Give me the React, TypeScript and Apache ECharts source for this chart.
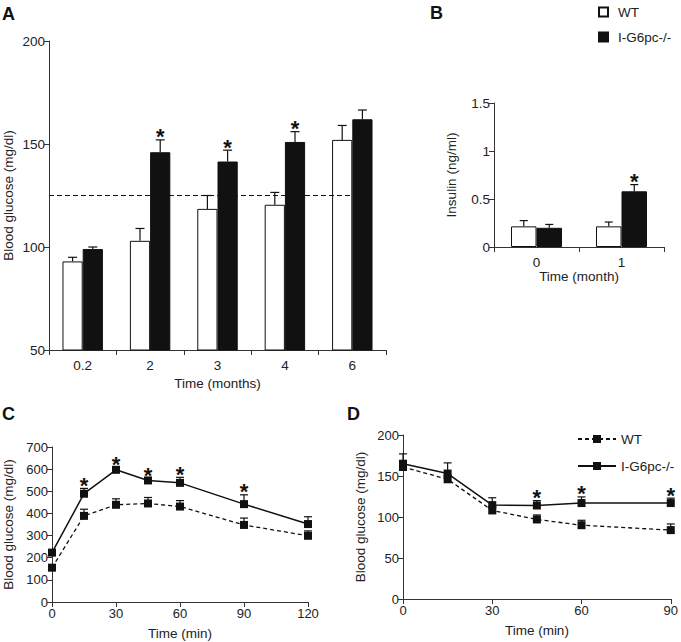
import React, { useEffect, useRef } from 'react';
import * as echarts from 'echarts';

// ---- Panel A: blood glucose by age (months)
const monthCats = ['0.2', '2', '3', '4', '6'];
const wtGlucose = [93, 103, 118.5, 120.5, 152];
const wtGlucoseErr = [2, 6, 6.5, 6, 7];
const koGlucose = [99, 146, 141.5, 151, 162];
const koGlucoseErr = [1, 6, 5.5, 5, 4.5];
const sigGlucose = [0, 1, 1, 1, 0];
const glucoseThreshold = 125;

// ---- Panel B: insulin
const insulinCats = ['0', '1'];
const wtInsulin = [0.215, 0.215];
const wtInsulinErr = [0.06, 0.045];
const koInsulin = [0.2, 0.58];
const koInsulinErr = [0.035, 0.07];
const sigInsulin = [0, 1];

// ---- Panel C: glucose tolerance
const gttTimes = [0, 15, 30, 45, 60, 90, 120];
const wtGtt = [155, 389, 439, 445, 431, 348, 299];
const wtGttErr = [0, 30, 27, 27, 27, 31, 22];
const koGtt = [223, 489, 597, 549, 538, 442, 352];
const koGttErr = [0, 24, 11, 8, 25, 42, 33];
const sigGtt = [0, 1, 1, 1, 1, 1, 0];

// ---- Panel D: insulin tolerance
const ittTimes = [0, 15, 30, 45, 60, 90];
const wtItt = [161, 146, 108, 97, 90, 84];
const wtIttErr = [5, 5, 5, 5.5, 6, 7.5];
const koItt = [165, 153, 114.5, 114, 117, 117];
const koIttErr = [12, 13, 9, 6, 7.5, 6];
const sigItt = [0, 0, 0, 1, 1, 1];

const WT = 'WT';
const KO = 'I-G6pc-/-';

const FONT = '"Liberation Sans", Arial, Helvetica, sans-serif';
const INK = '#111';
const AXIS = '#333';

function errorSeries(xi: number, yi: number, rows: number[][], side: number, capHalf: number) {
  return {
    type: 'custom',
    xAxisIndex: xi,
    yAxisIndex: yi,
    silent: true,
    z: 6,
    encode: { x: 0, y: 1 },
    data: rows,
    renderItem: (_params: any, api: any) => {
      const x = api.value(0);
      const v = api.value(1);
      const e = api.value(2);
      const sig = api.value(3);
      const base = api.coord([x, v]);
      const top = api.coord([x, v + e]);
      let cx = base[0];
      if (side !== 0) {
        const band = api.size([1, 0])[0];
        cx += side * band * 0.15;
      }
      const st = { stroke: INK, lineWidth: 1.2 };
      const children: any[] = [];
      if (e > 0) {
        children.push({ type: 'line', shape: { x1: cx, y1: base[1], x2: cx, y2: top[1] }, style: st });
        children.push({ type: 'line', shape: { x1: cx - capHalf, y1: top[1], x2: cx + capHalf, y2: top[1] }, style: st });
      }
      if (sig) {
        children.push({
          type: 'text',
          style: { text: '*', x: cx, y: top[1] - 3, align: 'center', verticalAlign: 'middle', fontSize: 22, fontWeight: 'bold', fill: INK, fontFamily: FONT },
        });
      }
      return { type: 'group', children };
    },
  };
}

const axisCommon = {
  axisLine: { show: true, lineStyle: { color: AXIS, width: 1 } },
  axisTick: { show: true, length: 5, lineStyle: { color: AXIS, width: 1 } },
  axisLabel: { color: '#222', fontSize: 13.5, fontFamily: FONT },
  splitLine: { show: false },
  nameLocation: 'middle',
  nameTextStyle: { color: '#222', fontSize: 13.5, fontFamily: FONT },
};

export default function App() {
  const ref = useRef<HTMLDivElement>(null);

  useEffect(() => {
    if (!ref.current) return;
    const chart = echarts.init(ref.current, undefined, { renderer: 'svg' });

    const option: any = {
      animation: false,
      backgroundColor: '#fff',
      textStyle: { fontFamily: FONT },
      grid: [
        { left: 48, top: 41, width: 338, height: 309 },
        { left: 494, top: 103, width: 170, height: 144 },
        { left: 52, top: 447, width: 256, height: 155 },
        { left: 403, top: 435, width: 269, height: 164 },
      ],
      xAxis: [
        { ...axisCommon, type: 'category', gridIndex: 0, data: monthCats, name: 'Time (months)', nameGap: 26, axisLabel: { ...axisCommon.axisLabel, margin: 8 } },
        { ...axisCommon, type: 'category', gridIndex: 1, data: insulinCats, name: 'Time (month)', nameGap: 22, axisLabel: { ...axisCommon.axisLabel, margin: 8 } },
        { ...axisCommon, type: 'value', gridIndex: 2, min: 0, max: 120, interval: 30, name: 'Time (min)', nameGap: 24, axisLabel: { ...axisCommon.axisLabel, fontSize: 13, margin: 5 } },
        { ...axisCommon, type: 'value', gridIndex: 3, min: 0, max: 90, interval: 30, name: 'Time (min)', nameGap: 24, axisLabel: { ...axisCommon.axisLabel, fontSize: 13, margin: 5 } },
        { type: 'value', gridIndex: 0, min: 0, max: 5, show: false },
      ],
      yAxis: [
        { ...axisCommon, type: 'value', gridIndex: 0, min: 50, max: 200, interval: 50, name: 'Blood glucose (mg/dl)', nameGap: 34, axisLabel: { ...axisCommon.axisLabel, margin: 4 } },
        { ...axisCommon, type: 'value', gridIndex: 1, min: 0, max: 1.5, interval: 0.5, name: 'Insulin (ng/ml)', nameGap: 36, axisLabel: { ...axisCommon.axisLabel, margin: 4 } },
        { ...axisCommon, type: 'value', gridIndex: 2, min: 0, max: 700, interval: 100, name: 'Blood glucose (mg/dl)', nameGap: 37, axisLabel: { ...axisCommon.axisLabel, fontSize: 13, margin: 4 } },
        { ...axisCommon, type: 'value', gridIndex: 3, min: 0, max: 200, interval: 50, name: 'Blood glucose (mg/dl)', nameGap: 36, axisLabel: { ...axisCommon.axisLabel, fontSize: 13, margin: 4 } },
      ],
      legend: [
        {
          orient: 'vertical',
          left: 593,
          top: 0,
          itemWidth: 9,
          itemHeight: 9,
          itemGap: 11,
          icon: 'rect',
          data: [WT, KO],
          textStyle: { color: '#222', fontSize: 13.5, fontFamily: FONT, padding: [0, 0, 0, 5] },
          selectedMode: false,
        },
        {
          orient: 'vertical',
          left: 572,
          top: 427,
          itemWidth: 38,
          itemHeight: 10,
          itemGap: 13,
          data: ['D-' + WT, 'D-' + KO],
          formatter: (n: string) => n.replace(/^D-/, ''),
          textStyle: { color: '#222', fontSize: 13.5, fontFamily: FONT },
          selectedMode: false,
        },
      ],
      graphic: [
        { type: 'text', left: 2, top: 5, style: { text: 'A', font: `bold 18px ${FONT}`, fill: INK } },
        { type: 'text', left: 430, top: 4, style: { text: 'B', font: `bold 18px ${FONT}`, fill: INK } },
        { type: 'text', left: 2, top: 405, style: { text: 'C', font: `bold 18px ${FONT}`, fill: INK } },
        { type: 'text', left: 347, top: 405, style: { text: 'D', font: `bold 18px ${FONT}`, fill: INK } },
      ],
      series: [
        // Panel A bars
        {
          name: WT, type: 'bar', xAxisIndex: 0, yAxisIndex: 0, data: wtGlucose,
          barGap: '0%', barCategoryGap: '40%',
          itemStyle: { color: '#fff', borderColor: INK, borderWidth: 1 },
        },
        {
          name: KO, type: 'bar', xAxisIndex: 0, yAxisIndex: 0, data: koGlucose,
          barGap: '0%', barCategoryGap: '40%',
          itemStyle: { color: INK, borderColor: INK, borderWidth: 1 },
        },
        errorSeries(0, 0, monthCats.map((_, i) => [i, wtGlucose[i], wtGlucoseErr[i], 0]), -1, 4.5),
        errorSeries(0, 0, monthCats.map((_, i) => [i, koGlucose[i], koGlucoseErr[i], sigGlucose[i]]), 1, 4.5),
        {
          type: 'line', xAxisIndex: 4, yAxisIndex: 0, z: 7, silent: true,
          data: [[0, glucoseThreshold], [4.5, glucoseThreshold]],
          symbol: 'none',
          lineStyle: { color: INK, width: 1.2, type: [5, 3] },
        },
        // Panel B bars
        {
          name: WT, type: 'bar', xAxisIndex: 1, yAxisIndex: 1, data: wtInsulin,
          barGap: '0%', barCategoryGap: '40%',
          itemStyle: { color: '#fff', borderColor: INK, borderWidth: 1 },
        },
        {
          name: KO, type: 'bar', xAxisIndex: 1, yAxisIndex: 1, data: koInsulin,
          barGap: '0%', barCategoryGap: '40%',
          itemStyle: { color: INK, borderColor: INK, borderWidth: 1 },
        },
        errorSeries(1, 1, insulinCats.map((_, i) => [i, wtInsulin[i], wtInsulinErr[i], 0]), -1, 4),
        errorSeries(1, 1, insulinCats.map((_, i) => [i, koInsulin[i], koInsulinErr[i], sigInsulin[i]]), 1, 4),
        // Panel C lines
        {
          name: 'C-' + WT, type: 'line', xAxisIndex: 2, yAxisIndex: 2,
          data: gttTimes.map((t, i) => [t, wtGtt[i]]),
          symbol: 'rect', symbolSize: 8,
          lineStyle: { color: INK, width: 1.3, type: [4, 3] },
          itemStyle: { color: INK },
        },
        {
          name: 'C-' + KO, type: 'line', xAxisIndex: 2, yAxisIndex: 2,
          data: gttTimes.map((t, i) => [t, koGtt[i]]),
          symbol: 'rect', symbolSize: 8,
          lineStyle: { color: INK, width: 1.5, type: 'solid' },
          itemStyle: { color: INK },
        },
        errorSeries(2, 2, gttTimes.map((t, i) => [t, wtGtt[i], wtGttErr[i], 0]), 0, 4),
        errorSeries(2, 2, gttTimes.map((t, i) => [t, koGtt[i], koGttErr[i], sigGtt[i]]), 0, 4),
        // Panel D lines
        {
          name: 'D-' + WT, type: 'line', xAxisIndex: 3, yAxisIndex: 3,
          data: ittTimes.map((t, i) => [t, wtItt[i]]),
          symbol: 'rect', symbolSize: 8,
          lineStyle: { color: INK, width: 1.3, type: [4, 3] },
          itemStyle: { color: INK },
        },
        {
          name: 'D-' + KO, type: 'line', xAxisIndex: 3, yAxisIndex: 3,
          data: ittTimes.map((t, i) => [t, koItt[i]]),
          symbol: 'rect', symbolSize: 8,
          lineStyle: { color: INK, width: 1.5, type: 'solid' },
          itemStyle: { color: INK },
        },
        errorSeries(3, 3, ittTimes.map((t, i) => [t, wtItt[i], wtIttErr[i], 0]), 0, 4),
        errorSeries(3, 3, ittTimes.map((t, i) => [t, koItt[i], koIttErr[i], sigItt[i]]), 0, 4),
      ],
    };

    chart.setOption(option);
    return () => chart.dispose();
  }, []);

  return (
    <div
      ref={ref}
      style={{ position: 'absolute', left: 0, top: 0, width: 681, height: 642, background: '#fff' }}
    />
  );
}
